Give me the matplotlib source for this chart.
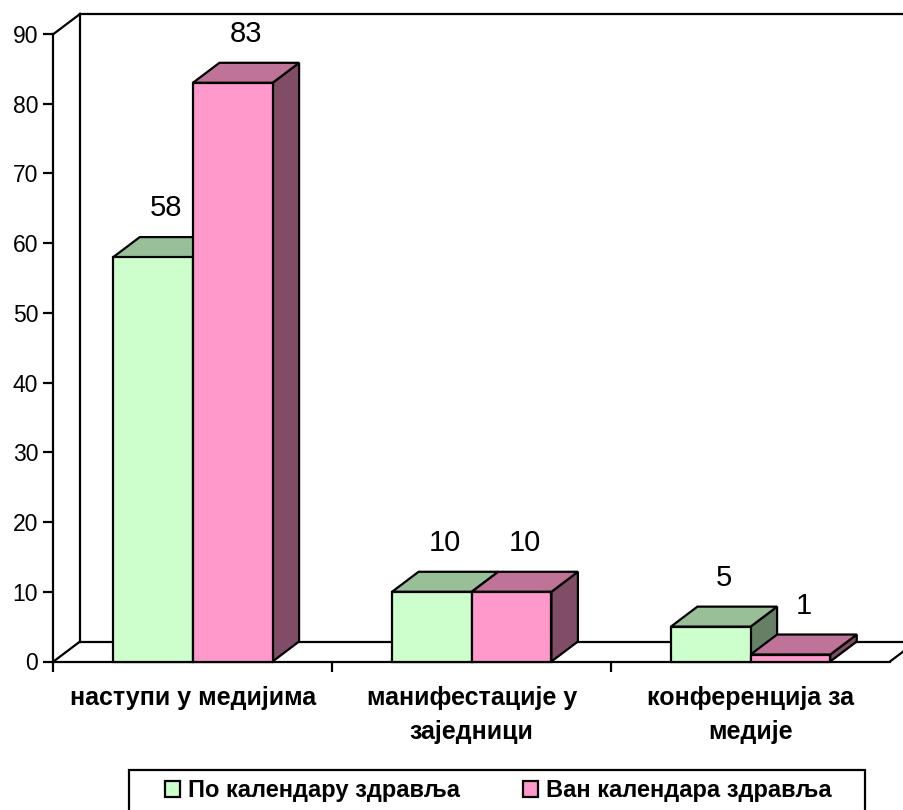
import matplotlib
matplotlib.use("Agg")
import matplotlib.pyplot as plt
from matplotlib.patches import Polygon, Rectangle, Patch
import numpy as np

# Data
categories = ["наступи у медијима", "манифестације у\nзаједници", "конференција за\nмедије"]
series_names = ["По календару здравља", "Ван календара здравља"]
po_kalendaru = [58, 10, 5]
van_kalendara = [83, 10, 1]
y_ticks = [0, 10, 20, 30, 40, 50, 60, 70, 80, 90]

# Face colours: front, top, side
green_faces = ("#CCFFCC", "#99BF99", "#668066")
pink_faces = ("#FF99CC", "#BF7399", "#804C66")

plt.rcParams["font.family"] = ["Liberation Sans", "DejaVu Sans"]

W, H = 904, 810
fig = plt.figure(figsize=(W / 100, H / 100), dpi=100)
ax = fig.add_axes([53.5 / W, 148.5 / H, 836.5 / W, 627.5 / H])
ax.set_xlim(0, 3)
ax.set_ylim(0, 90)

# Depth of the 3-D box, in pixels, converted to data units
depth_px = np.array([26.5, 20.0])
origin = ax.transData.transform((0, 0))
ddx, ddy = ax.transData.inverted().transform(origin + depth_px)

LW = 1.6
line_kw = dict(color="black", lw=LW, clip_on=False, zorder=1, solid_capstyle="projecting")

# Back wall and floor outlines
ax.plot([0, ddx], [90, 90 + ddy], **line_kw)
ax.plot([ddx, ddx], [ddy, 90 + ddy], **line_kw)
ax.plot([ddx, 4], [90 + ddy, 90 + ddy], **line_kw)
ax.plot([ddx, 4], [ddy, ddy], **line_kw)
ax.plot([0, ddx], [0, ddy], **line_kw)
ax.plot([3, 3 + ddx], [0, ddy], **line_kw)

# 3-D bars
gap = 1.5
w = 1.0 / (2 + gap)
for j, (vals, faces) in enumerate([(po_kalendaru, green_faces), (van_kalendara, pink_faces)]):
    front, top, side = faces
    z = 2 + j
    for i, v in enumerate(vals):
        x0 = i + 0.5 - w + j * w
        x1 = x0 + w
        side_poly = [(x1, 0), (x1 + ddx, ddy), (x1 + ddx, v + ddy), (x1, v)]
        top_poly = [(x0, v), (x1, v), (x1 + ddx, v + ddy), (x0 + ddx, v + ddy)]
        ax.add_patch(Polygon(side_poly, closed=True, facecolor=side, edgecolor="black",
                             lw=LW, zorder=z, clip_on=False, joinstyle="miter"))
        ax.add_patch(Polygon(top_poly, closed=True, facecolor=top, edgecolor="black",
                             lw=LW, zorder=z, clip_on=False, joinstyle="miter"))
    ax.bar([i + 0.5 - w + j * w for i in range(len(vals))], vals, width=w, align="edge",
           color=front, edgecolor="black", lw=LW, zorder=z + 0.5, clip_on=False)
    for i, v in enumerate(vals):
        xc = i + 0.5 - w + j * w + w / 2 + ddx / 2
        ax.annotate(str(v), (xc, v + ddy), xytext=(0, 15), textcoords="offset points",
                    ha="center", va="baseline", fontsize=21, zorder=5)

# Axes styling
for s in ("top", "right"):
    ax.spines[s].set_visible(False)
for s in ("left", "bottom"):
    ax.spines[s].set_linewidth(LW)
    ax.spines[s].set_zorder(1.5)

ax.set_yticks(y_ticks)
ax.tick_params(axis="y", length=7.5, width=LW, labelsize=16.5, pad=3.5)
ax.set_xticks([0, 1, 2])
ax.set_xticklabels([])
ax.tick_params(axis="x", which="major", length=7.5, width=LW)
ax.set_xticks([0.5, 1.5, 2.5], minor=True)
ax.set_xticklabels(categories, minor=True, fontsize=18, fontweight="bold")
ax.tick_params(axis="x", which="minor", length=0, pad=17.5)
for lab in ax.get_xticklabels(minor=True):
    lab.set_linespacing(1.55)
ax.patch.set_visible(False)

# Legend
handles = [Patch(facecolor=green_faces[0], edgecolor="black", lw=LW),
           Patch(facecolor=pink_faces[0], edgecolor="black", lw=LW)]
fig.legend(handles, series_names, loc="center", bbox_to_anchor=(498 / W, (H - 790.5) / H),
           ncol=2, frameon=False, prop=dict(size=17, weight="bold"),
           handlelength=0.64, handleheight=0.64, handletextpad=0.34, columnspacing=2.67,
           borderpad=0, borderaxespad=0)
fig.patches.append(Rectangle((129 / W, -4 / H), (865 - 129) / W, (814 - 770) / H,
                             transform=fig.transFigure, fill=False, edgecolor="black", lw=LW))

fig.savefig("out.png", dpi=100)
